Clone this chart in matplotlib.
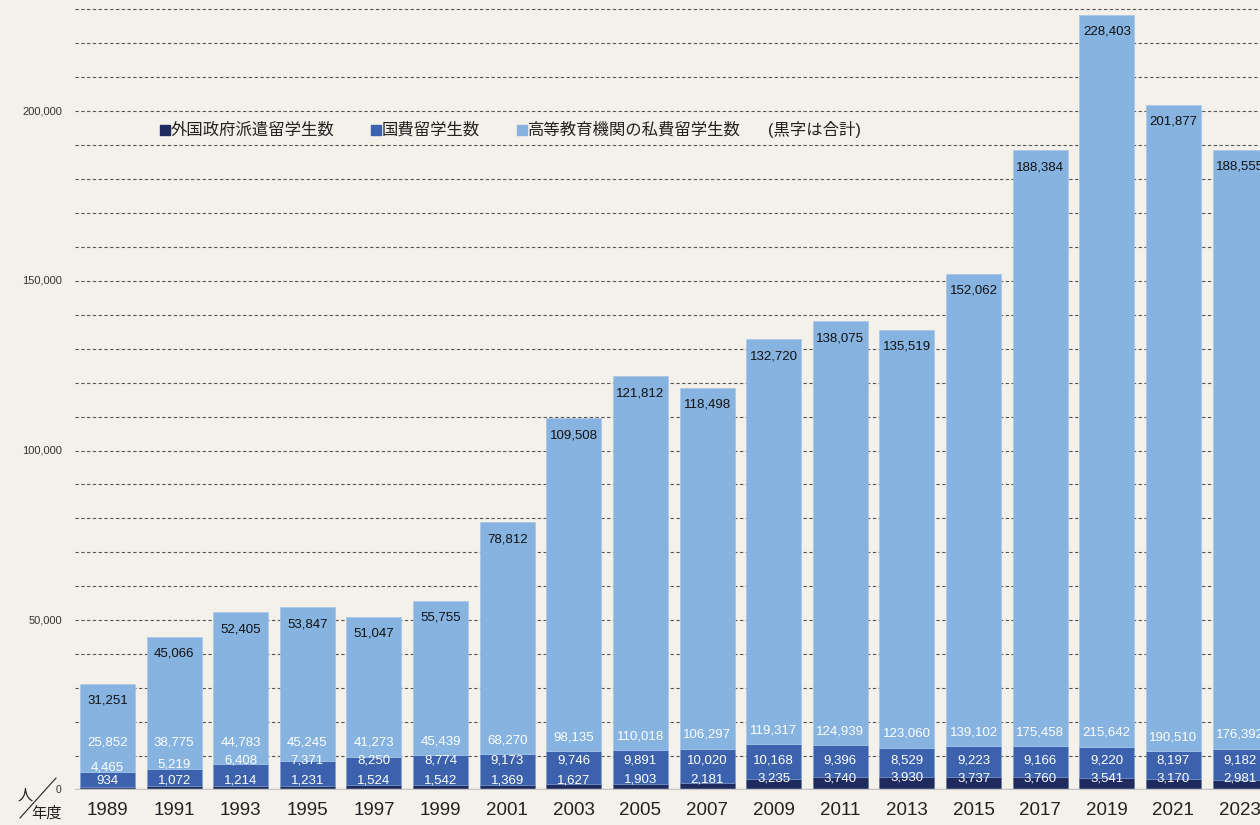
import matplotlib
matplotlib.use("Agg")
import matplotlib.pyplot as plt
from matplotlib.lines import Line2D
import numpy as np

plt.rcParams['font.family'] = ['Liberation Sans', 'Noto Sans CJK JP', 'DejaVu Sans']

years = ["1989", "1991", "1993", "1995", "1997", "1999", "2001", "2003", "2005",
         "2007", "2009", "2011", "2013", "2015", "2017", "2019", "2021", "2023"]
gov_dispatched = [934, 1072, 1214, 1231, 1524, 1542, 1369, 1627, 1903,
                  2181, 3235, 3740, 3930, 3737, 3760, 3541, 3170, 2981]
govt_funded = [4465, 5219, 6408, 7371, 8250, 8774, 9173, 9746, 9891,
               10020, 10168, 9396, 8529, 9223, 9166, 9220, 8197, 9182]
private = [25852, 38775, 44783, 45245, 41273, 45439, 68270, 98135, 110018,
           106297, 119317, 124939, 123060, 139102, 175458, 215642, 190510, 176392]
totals = [31251, 45066, 52405, 53847, 51047, 55755, 78812, 109508, 121812,
          118498, 132720, 138075, 135519, 152062, 188384, 228403, 201877, 188555]
legend_labels = ["外国政府派遣留学生数", "国費留学生数", "高等教育機関の私費留学生数"]
ytick_vals = [50000, 100000, 150000, 200000]

BG = "#f4f1ea"
C_DARK = "#1f2a5e"
C_MID = "#3c62ae"
C_LIGHT = "#86b3e0"

W, H = 1260, 825
fig = plt.figure(figsize=(W / 100, H / 100), dpi=100, facecolor=BG)
ax = fig.add_axes([75 / W, 35 / H, 1 - 75 / W, 1 - 35 / H])
ax.set_facecolor(BG)

x = np.arange(len(years))
d = np.array(gov_dispatched)
m = np.array(govt_funded)
p = np.array(private)
bw = 0.826

# grid lines
for g in range(10000, 240000, 10000):
    ax.axhline(g, color="#555555", lw=0.8, ls=(0, (3, 2.2)), zorder=0.5)

ax.bar(x, d, bw, color=C_DARK, zorder=2, edgecolor="#5a6a98", linewidth=0.4)
ax.bar(x, m, bw, bottom=d, color=C_MID, zorder=2, edgecolor="#7f9cd0", linewidth=0.4)
ax.bar(x, p, bw, bottom=d + m, color=C_LIGHT, zorder=2, edgecolor="#a6c7ea", linewidth=0.5)

ax.axhline(0, color="#c4c4c4", lw=2.5, zorder=3)

ax.set_xlim(-0.488, 17.3)
ax.set_ylim(0, 232700)
for s in ax.spines.values():
    s.set_visible(False)
ax.set_xticks([])
ax.set_yticks([])

fs_val = 9.5
for i in range(len(years)):
    top_mid = d[i] + m[i]
    ax.text(x[i], totals[i] - 5000, f"{totals[i]:,}", ha="center", va="center",
            fontsize=fs_val, color="#111111", zorder=4)
    ax.text(x[i], max(top_mid + 4100, 14100), f"{private[i]:,}", ha="center", va="center",
            fontsize=fs_val, color="white", zorder=4)
    ax.text(x[i], min(top_mid + 1200, 8800), f"{govt_funded[i]:,}", ha="center", va="center",
            fontsize=fs_val, color="white", zorder=4)
    ax.text(x[i], 2400 + 0.3 * d[i], f"{gov_dispatched[i]:,}", ha="center", va="center",
            fontsize=fs_val, color="white", zorder=4)
    ax.text(x[i], -6000, years[i], ha="center", va="center", fontsize=13.5,
            color="#222222", clip_on=False)

for v in ytick_vals:
    ax.text(-0.68, v, f"{v:,}", ha="right", va="center", fontsize=8,
            color="#333333", clip_on=False)

# bottom-left corner annotation
def px(xp, yp):
    return xp / W, 1 - yp / H

fig.text(*px(58, 790), "0", ha="center", va="center", fontsize=7.5, color="#333333")
fig.text(*px(25, 796), "人", ha="center", va="center", fontsize=11, color="#222222")
fig.text(*px(47, 813), "年度", ha="center", va="center", fontsize=11, color="#222222")
x0, y0 = px(20, 818)
x1, y1 = px(56, 778)
fig.add_artist(Line2D([x0, x1], [y0, y1], transform=fig.transFigure, color="#222222", lw=0.8))

# legend
leg_y = 130
entries = [(160, C_DARK, legend_labels[0]), (371, C_MID, legend_labels[1]),
           (517, C_LIGHT, legend_labels[2])]
for lx, col, lab in entries:
    fig.patches.append(plt.Rectangle(px(lx, leg_y + 5), 10 / W, 10 / H,
                                     transform=fig.transFigure, color=col))
    fig.text(*px(lx + 11, leg_y), lab, ha="left", va="center", fontsize=11.8, color="#222222")
fig.text(*px(768, leg_y), "(黒字は合計)", ha="left", va="center", fontsize=11.8, color="#222222")

fig.savefig("out.png", dpi=100, facecolor=BG)
